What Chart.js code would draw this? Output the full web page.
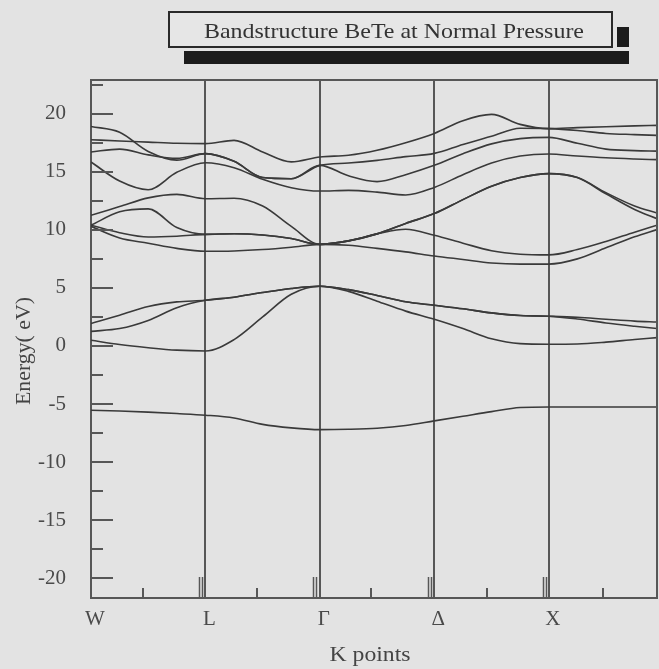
<!DOCTYPE html>
<html>
<head>
<meta charset="utf-8">
<script src="https://cdn.jsdelivr.net/npm/chart.js@4.4.1/dist/chart.umd.min.js"></script>
<style>
  html, body { margin: 0; padding: 0; background: #e3e3e3; }
  canvas { display: block; }
</style>
</head>
<body>
<canvas id="bands" width="659" height="669"></canvas>
<script>
// k path: W = 0, L = 1, Γ = 2, Δ = 3, X = 4, plot ends a bit short of 5
const kPath = [0, 0.25, 0.5, 0.75, 1, 1.25, 1.5, 1.75, 2, 2.25, 2.5, 2.75, 3,
               3.25, 3.5, 3.75, 4, 4.25, 4.5, 4.75, 4.946];
const kLabels = ['W', 'L', 'Γ', 'Δ', 'X'];
const kLabelPos = [0, 1, 2, 3, 4];
const kMidTicks = [0.455, 1.45, 2.45, 3.46, 4.47];
const kEdgeTicks = [0.96, 1.96, 2.96, 3.97];
const energyTicks = [-20, -15, -10, -5, 0, 5, 10, 15, 20];
const energyMinorTicks = [-17.5, -12.5, -7.5, -2.5, 2.5, 7.5, 12.5, 17.5, 22.5];

// energies (eV) of each band along kPath
const bandS  = [-5.54, -5.6, -5.7, -5.82, -5.96, -6.2, -6.75, -7.05, -7.2, -7.17, -7.08, -6.85, -6.45, -6.05, -5.65, -5.3, -5.25, -5.25, -5.25, -5.25, -5.25];
const bandV1 = [0.49, 0.12, -0.15, -0.36, -0.43, 0.55, 2.5, 4.45, 5.14, 4.7, 3.85, 3.0, 2.3, 1.5, 0.62, 0.2, 0.15, 0.17, 0.33, 0.56, 0.72];
const bandV2 = [1.26, 1.5, 2.2, 3.3, 3.93, 4.2, 4.6, 4.95, 5.14, 4.85, 4.35, 3.8, 3.5, 3.2, 2.85, 2.62, 2.56, 2.32, 1.98, 1.7, 1.5];
const bandV3 = [1.93, 2.64, 3.4, 3.8, 3.93, 4.2, 4.6, 4.95, 5.14, 4.85, 4.35, 3.8, 3.5, 3.2, 2.85, 2.62, 2.56, 2.47, 2.3, 2.14, 2.07];
const bandH  = [10.3, 9.3, 8.85, 8.4, 8.15, 8.18, 8.3, 8.5, 8.75, 8.67, 8.4, 8.1, 7.75, 7.45, 7.15, 7.05, 7.05, 7.5, 8.45, 9.4, 10.02];
const bandF  = [10.4, 11.55, 11.8, 10.2, 9.61, 9.66, 9.55, 9.25, 8.75, 9.05, 9.65, 10.05, 9.53, 8.85, 8.2, 7.9, 7.84, 8.3, 9.0, 9.8, 10.4];
const bandG  = [10.4, 9.75, 9.38, 9.45, 9.61, 9.66, 9.55, 9.25, 8.75, 9.05, 9.65, 10.55, 11.4, 12.6, 13.75, 14.5, 14.84, 14.5, 13.1, 11.75, 10.96];
const bandE  = [11.25, 12.0, 12.75, 13.05, 12.68, 12.72, 12.05, 10.3, 8.75, 9.05, 9.65, 10.55, 11.4, 12.6, 13.75, 14.5, 14.84, 14.5, 13.2, 12.05, 11.45];
const bandD  = [15.84, 14.2, 13.45, 14.95, 15.78, 15.35, 14.35, 13.63, 13.34, 13.4, 13.25, 13.0, 13.65, 14.75, 15.75, 16.35, 16.53, 16.35, 16.2, 16.1, 16.04];
const bandC  = [16.7, 16.95, 16.45, 16.15, 16.56, 15.9, 14.5, 14.4, 15.55, 14.65, 14.15, 14.75, 15.55, 16.55, 17.4, 17.85, 17.96, 17.45, 16.95, 16.82, 16.78];
const bandA  = [18.9, 18.4, 16.75, 16.0, 16.56, 15.9, 14.5, 14.4, 15.55, 15.75, 15.98, 16.3, 16.58, 17.35, 18.05, 18.75, 18.71, 18.55, 18.3, 18.2, 18.13];
const bandB  = [17.76, 17.65, 17.55, 17.45, 17.42, 17.7, 16.7, 15.85, 16.27, 16.42, 16.85, 17.5, 18.3, 19.4, 19.94, 19.08, 18.71, 18.8, 18.88, 18.95, 18.99];

const bands = [bandS, bandV1, bandV2, bandV3, bandH, bandF, bandG, bandE, bandD, bandC, bandA, bandB];
const chartTitle = 'Bandstructure BeTe at Normal Pressure';
const xTitle = 'K points';
const yTitle = 'Energy( eV)';

const serif = '"Liberation Serif", "Times New Roman", serif';
const axisColor = '#575757';

// draw text squeezed or stretched to a given width (the original font is wide)
function wideText(ctx, text, cx, cy, width, angle) {
  const w = ctx.measureText(text).width;
  ctx.save();
  ctx.translate(cx, cy);
  ctx.rotate(angle);
  ctx.scale(width / w, 1);
  ctx.textAlign = 'center';
  ctx.textBaseline = 'alphabetic';
  ctx.fillText(text, 0, 0);
  ctx.restore();
}

const frame = {
  id: 'frame',
  beforeDraw(chart) {
    const { ctx, width, height } = chart;
    ctx.save();
    ctx.fillStyle = '#e3e3e3';
    ctx.fillRect(0, 0, width, height);
    ctx.restore();
  },
  afterDraw(chart) {
    const { ctx, chartArea: a, scales: { x, y } } = chart;
    ctx.save();
    ctx.strokeStyle = axisColor;
    ctx.lineWidth = 2;
    ctx.beginPath();
    ctx.moveTo(a.left, a.top);
    ctx.lineTo(a.right, a.top);
    ctx.lineTo(a.right, a.bottom);
    // ticks point inwards, like the original plot
    energyTicks.forEach(v => {
      const py = Math.round(y.getPixelForValue(v));
      ctx.moveTo(a.left, py);
      ctx.lineTo(a.left + 22, py);
    });
    energyMinorTicks.forEach(v => {
      if (v > y.max) return;
      const py = Math.round(y.getPixelForValue(v));
      ctx.moveTo(a.left, py);
      ctx.lineTo(a.left + 12, py);
    });
    kMidTicks.forEach(v => {
      const px = Math.round(x.getPixelForValue(v));
      ctx.moveTo(px, a.bottom);
      ctx.lineTo(px, a.bottom - 10);
    });
    ctx.stroke();
    ctx.lineWidth = 1.5;
    ctx.beginPath();
    kEdgeTicks.forEach(v => {
      const px = Math.round(x.getPixelForValue(v));
      [-1.5, 1.5].forEach(d => {
        ctx.moveTo(px + d, a.bottom);
        ctx.lineTo(px + d, a.bottom - 21);
      });
    });
    ctx.stroke();

    // axis titles
    ctx.font = '21px ' + serif;
    ctx.fillStyle = '#444';
    wideText(ctx, xTitle, 370, 661, 81, 0);
    wideText(ctx, yTitle, 30, 351, 108, -Math.PI / 2);

    // title box with its heavy shadow
    ctx.fillStyle = '#1c1c1c';
    ctx.fillRect(617, 27, 12, 20);
    ctx.fillRect(184, 51, 445, 13);
    ctx.fillStyle = '#e6e6e6';
    ctx.fillRect(169, 12, 443, 35);
    ctx.strokeStyle = '#2a2a2a';
    ctx.lineWidth = 2;
    ctx.strokeRect(169, 12, 443, 35);
    ctx.fillStyle = '#333';
    wideText(ctx, chartTitle, 394, 37.5, 380, 0);
    ctx.restore();
  }
};

new Chart(document.getElementById('bands'), {
  type: 'line',
  data: {
    datasets: bands.map((band, i) => ({
      label: 'band ' + (i + 1),
      data: band.map((e, j) => ({ x: kPath[j], y: e })),
      borderColor: '#3a3a3a',
      borderWidth: 1.6,
      pointRadius: 0,
      cubicInterpolationMode: 'monotone',
      fill: false
    }))
  },
  options: {
    responsive: false,
    animation: false,
    devicePixelRatio: 1,
    layout: { padding: { top: 80, right: 2, left: 0, bottom: 0 } },
    plugins: {
      legend: { display: false },
      tooltip: { enabled: false },
      title: { display: false }
    },
    scales: {
      x: {
        type: 'linear',
        min: 0,
        max: kPath[kPath.length - 1],
        afterBuildTicks: scale => { scale.ticks = kLabelPos.map(v => ({ value: v })); },
        afterFit: scale => { scale.height = 71; },
        ticks: {
          callback: (v) => kLabels[kLabelPos.indexOf(v)],
          font: { family: serif, size: 21 },
          color: '#4a4a4a',
          padding: 9,
          labelOffset: 4,
          maxRotation: 0,
          autoSkip: false
        },
        grid: {
          drawTicks: false,
          color: ctx => (ctx.tick && ctx.tick.value > 0 ? axisColor : 'rgba(0,0,0,0)'),
          lineWidth: 2
        },
        border: { display: true, color: axisColor, width: 2 },
        title: { display: false }
      },
      y: {
        min: -21.7,
        max: 22.9,
        afterBuildTicks: scale => { scale.ticks = energyTicks.map(v => ({ value: v })); },
        afterFit: scale => { scale.width = 91; },
        ticks: {
          font: { family: serif, size: 21 },
          color: '#4a4a4a',
          padding: 17
        },
        grid: { display: false },
        border: { display: true, color: axisColor, width: 2 },
        title: { display: false }
      }
    }
  },
  plugins: [frame]
});
</script>
</body>
</html>
